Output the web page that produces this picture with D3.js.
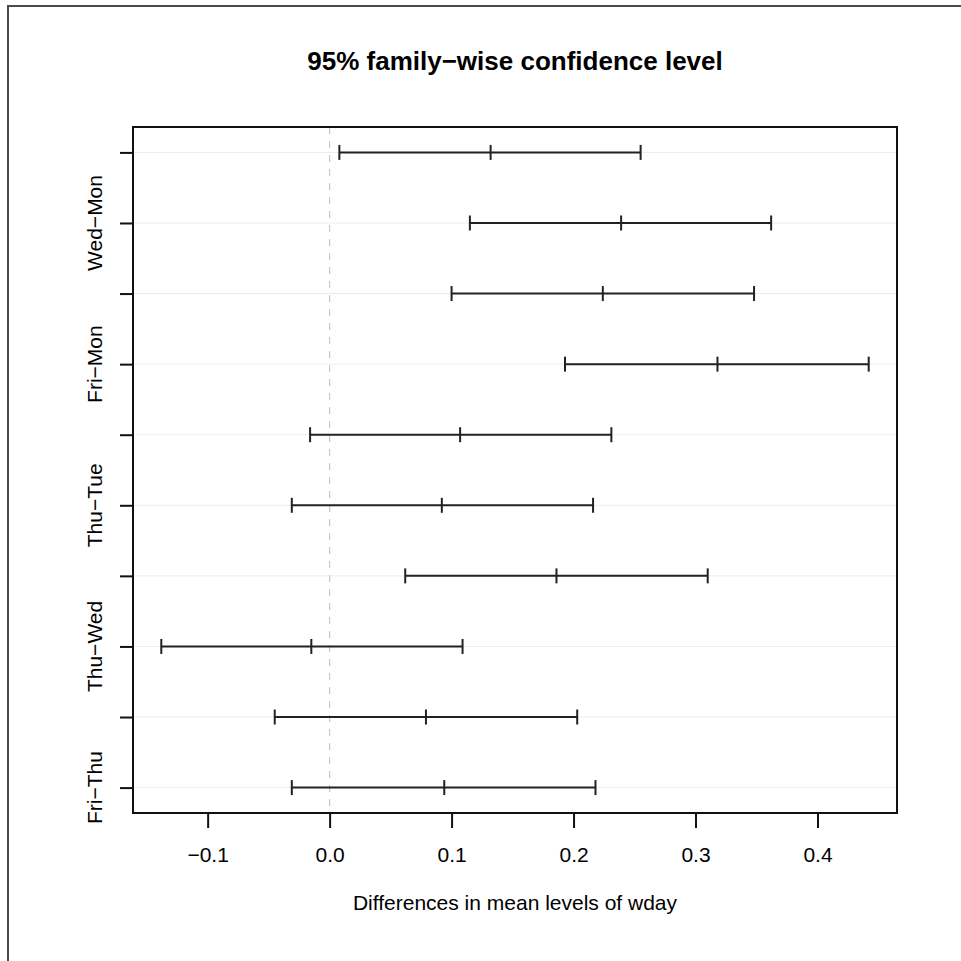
<!DOCTYPE html>
<html>
<head>
<meta charset="utf-8">
<script src="https://cdn.jsdelivr.net/npm/d3@7/dist/d3.min.js"></script>
<style>
  html, body { margin: 0; padding: 0; background: #fff; }
  svg { display: block; }
  text { font-family: "Liberation Sans", Arial, Helvetica, sans-serif; fill: #000; }
</style>
</head>
<body>
<script>
// ---- data (top to bottom) ----
const comparisons = ["Tue-Mon","Wed-Mon","Thu-Mon","Fri-Mon","Wed-Tue","Thu-Tue","Fri-Tue","Thu-Wed","Fri-Wed","Fri-Thu"];
const diffs = [0.132, 0.239, 0.224, 0.318, 0.107, 0.092, 0.186, -0.015, 0.079, 0.094];
const lwrs  = [0.008, 0.115, 0.100, 0.193, -0.016, -0.031, 0.062, -0.138, -0.045, -0.031];
const uprs  = [0.255, 0.362, 0.348, 0.442, 0.231, 0.216, 0.310, 0.109, 0.203, 0.218];
const xTicks = [-0.1, 0.0, 0.1, 0.2, 0.3, 0.4];
const titleText = "95% family\u2212wise confidence level";
const xLabel = "Differences in mean levels of wday";

const W = 961, H = 961;
const box = {left: 133, right: 897, top: 127, bottom: 813};

const svg = d3.select("body").append("svg").attr("width", W).attr("height", H);
svg.append("rect").attr("width", W).attr("height", H).attr("fill", "#fff");

// outer device frame (only top/left visible)
svg.append("rect").attr("x", 8).attr("y", 6).attr("width", 1000).attr("height", 1000)
  .attr("fill", "none").attr("stroke", "#4a4a4a").attr("stroke-width", 2);

const n = comparisons.length;
const xmin = d3.min(lwrs), xmax = d3.max(uprs);
const xpad = (xmax - xmin) * 0.04;
const x = d3.scaleLinear().domain([xmin - xpad, xmax + xpad]).range([box.left, box.right]);
const ypad = (n - 1) * 0.04;
const y = d3.scaleLinear().domain([1 - ypad, n + ypad]).range([box.bottom, box.top]);
const yval = i => n - i;

// grid lines
svg.append("g").selectAll("line").data(comparisons).join("line")
  .attr("x1", box.left).attr("x2", box.right)
  .attr("y1", (d, i) => y(yval(i))).attr("y2", (d, i) => y(yval(i)))
  .attr("stroke", "#ececec").attr("stroke-width", 1);

// zero line
svg.append("line").attr("x1", x(0)).attr("x2", x(0)).attr("y1", box.top).attr("y2", box.bottom)
  .attr("stroke", "#c8c8c8").attr("stroke-width", 1.2).attr("stroke-dasharray", "7,7");

// intervals
const g = svg.append("g");
comparisons.forEach((c, i) => {
  const yy = y(yval(i));
  g.append("line").attr("x1", x(lwrs[i])).attr("x2", x(uprs[i])).attr("y1", yy).attr("y2", yy)
    .attr("stroke", "#222").attr("stroke-width", 2);
  [lwrs[i], diffs[i], uprs[i]].forEach(v => {
    g.append("line").attr("x1", x(v)).attr("x2", x(v)).attr("y1", yy - 7.5).attr("y2", yy + 7.5)
      .attr("stroke", "#222").attr("stroke-width", 2);
  });
});

// box
svg.append("rect").attr("x", box.left).attr("y", box.top)
  .attr("width", box.right - box.left).attr("height", box.bottom - box.top)
  .attr("fill", "none").attr("stroke", "#111").attr("stroke-width", 2);

// x axis
const xAxis = d3.axisBottom(x).tickValues(xTicks).tickSize(15).tickPadding(0)
  .tickFormat(d => d3.format(".1f")(d).replace("-", "\u2212"));
const xg = svg.append("g").attr("transform", `translate(0,${box.bottom})`).call(xAxis);
xg.select(".domain").remove();
xg.selectAll(".tick line").attr("stroke", "#111").attr("stroke-width", 2);
xg.selectAll(".tick text").attr("y", 49).attr("dy", null)
  .style("font-size", "21px").style("font-family", "'Liberation Sans', Arial, sans-serif").attr("fill", "#000");

// y axis
const yAxis = d3.axisLeft(y).tickValues(d3.range(n).map(yval)).tickSize(13).tickFormat("");
const yg = svg.append("g").attr("transform", `translate(${box.left},0)`).call(yAxis);
yg.select(".domain").remove();
yg.selectAll(".tick line").attr("stroke", "#111").attr("stroke-width", 2);

// y labels, dropped when overlapping (processed from bottom like R)
const labG = svg.append("g");
let lastTop = Infinity;
const gap = 14;
for (let i = n - 1; i >= 0; i--) {
  const yy = y(yval(i));
  const t = labG.append("text")
    .attr("transform", `translate(102,${yy}) rotate(-90)`)
    .attr("text-anchor", "middle")
    .style("font-size", "21px")
    .text(comparisons[i].replace("-", "\u2212"));
  const w = t.node().getComputedTextLength();
  const lo = yy + w / 2, hi = yy - w / 2;
  if (lo + gap > lastTop) { t.remove(); } else { lastTop = hi; }
}

// title
svg.append("text").attr("x", (box.left + box.right) / 2).attr("y", 70)
  .attr("text-anchor", "middle").style("font-size", "26px").style("font-weight", "bold")
  .text(titleText);

// x label
svg.append("text").attr("x", (box.left + box.right) / 2).attr("y", 910)
  .attr("text-anchor", "middle").style("font-size", "21px")
  .text(xLabel);
</script>
</body>
</html>
